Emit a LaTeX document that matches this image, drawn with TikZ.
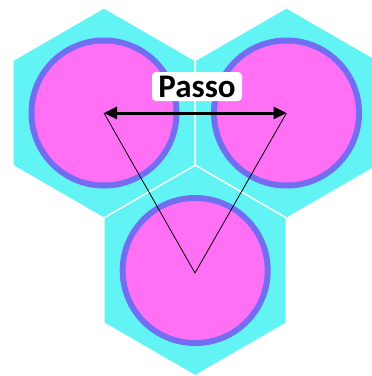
\documentclass[tikz,border=0pt]{standalone}
\usepackage{fontspec}
\setmainfont{Carlito}
\usetikzlibrary{arrows.meta,calc}
\definecolor{hexcyan}{RGB}{98,244,244}
\definecolor{ringblue}{RGB}{114,110,242}
\definecolor{corepink}{RGB}{255,112,245}
\begin{document}
\begin{tikzpicture}[x=1pt,y=-1pt,
  hexcell/.style={fill=hexcyan,draw=white,line width=1.4pt,line join=miter},
  fuelring/.style={fill=ringblue},
  fuelcore/.style={fill=corepink},
  pitchline/.style={draw=black,line width=0.8pt},
  pitcharrow/.style={draw=black,line width=3pt,{Triangle[length=13pt,width=12pt]}-{Triangle[length=13pt,width=12pt]}},
  tag/.style={fill=white,rounded corners=4pt,minimum width=90pt,minimum height=29pt,inner sep=0pt,font=\bfseries\fontsize{33}{33}\selectfont}]
\useasboundingbox (0,0) rectangle (372,376);
\clip (0,0) rectangle (372,376);
\coordinate (A) at (104,113);
\coordinate (B) at (286.5,113);
\coordinate (C) at (195.2,270.5);
\coordinate (apex) at (195,273);
\foreach \c in {A,B,C} {
  \path[hexcell] (\c) +(90:105.3) -- +(30:105.3) -- +(-30:105.3) -- +(-90:105.3) -- +(-150:105.3) -- +(150:105.3) -- cycle;
}
\foreach \c in {A,B,C} {
  \fill[fuelring] (\c) circle (75.5pt);
  \fill[fuelcore] (\c) circle (69.5pt);
}
\draw[pitchline] (A) -- (apex) -- (B);
\draw[pitcharrow] (A) -- (B);
\node[tag] (label) at (197,86.5) {Passo};
\end{tikzpicture}
\end{document}
